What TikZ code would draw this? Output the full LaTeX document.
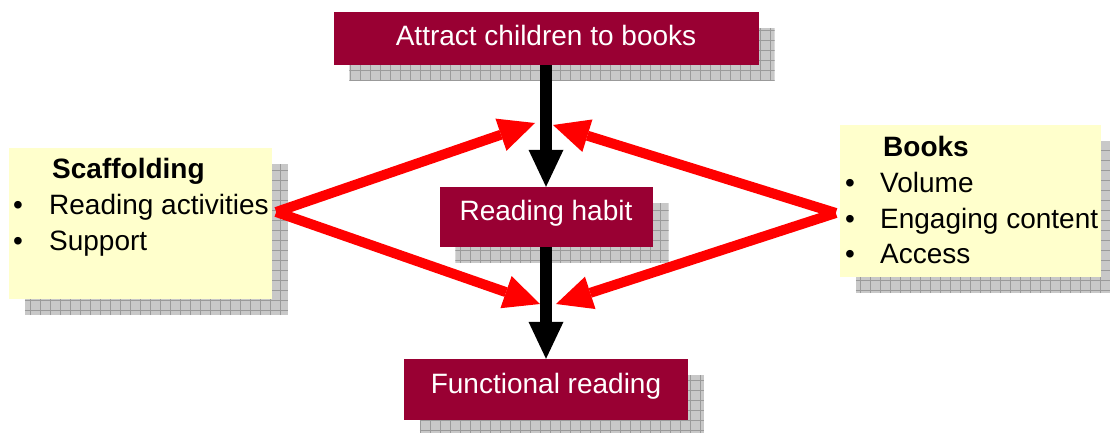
\documentclass[tikz,border=0pt]{standalone}
\usepackage{fontspec}
\setmainfont{Liberation Sans}
\usetikzlibrary{arrows.meta}
\definecolor{boxred}{HTML}{990033}
\definecolor{noteyellow}{HTML}{FFFFCC}
\definecolor{shadowgray}{HTML}{C8C8C8}
\definecolor{gridgray}{HTML}{9A9A9A}
\pgfdeclarelayer{shadowlayer}
\pgfdeclarelayer{arrowlayer}
\pgfsetlayers{shadowlayer,arrowlayer,main}
\newcommand\mydropshadow[1]{%
  \begin{pgfonlayer}{shadowlayer}
    \begin{scope}
      \clip ([shift={(16pt,-16pt)}]#1.south west) rectangle ([shift={(16pt,-16pt)}]#1.north east);
      \fill[shadowgray] ([shift={(16pt,-16pt)}]#1.south west) rectangle ([shift={(16pt,-16pt)}]#1.north east);
      \draw[gridgray, line width=0.7pt, step=10pt] ([shift={(16pt,-16pt)}]#1.south west) grid ([shift={(16pt,-16pt)}]#1.north east);
    \end{scope}
  \end{pgfonlayer}}
\tikzset{
  redbox/.style={fill=boxred, text=white, font=\fontsize{28}{34}\selectfont, inner sep=0pt, text height=20pt},
  notebox/.style={fill=noteyellow, inner sep=0pt},
  notetext/.style={anchor=base west, inner sep=0pt},
  feedarrow/.style={draw=red, line width=10pt, -{Triangle[length=36pt,width=34pt,line width=0pt]}},
  flowarrow/.style={draw=black, line width=12pt, -{Triangle[length=37pt,width=35pt,line width=0pt]}},
}
\begin{document}
\begin{tikzpicture}[x=1pt,y=-1pt]
\useasboundingbox (0,0) rectangle (1110,433);

% main boxes
\node[redbox, minimum width=425pt, minimum height=53pt, text depth=5pt] (attract) at (546,38.5) {Attract children to books};
\node[redbox, minimum width=213pt, minimum height=60pt, text depth=14pt] (habit) at (546,217) {Reading habit};
\node[redbox, minimum width=284pt, minimum height=61pt, text depth=13pt] (func) at (546,389.5) {Functional reading};

% note boxes
\node[notebox, minimum width=263pt, minimum height=151pt] (scaf) at (140.5,223.5) {};
\node[notetext, font=\fontsize{28}{36}\selectfont] (scaftext) at (13,178.5)
  {\begin{tabular}[t]{@{}p{36pt}@{}l@{}}
     & \hspace{3pt}\textbf{Scaffolding}\\
   \textbullet & Reading activities\\
   \textbullet & Support
   \end{tabular}};
\node[notebox, minimum width=261pt, minimum height=152pt] (books) at (970.5,201) {};
\node[notetext, font=\fontsize{28}{35.5}\selectfont] (bookstext) at (845,157)
  {\begin{tabular}[t]{@{}p{35pt}@{}l@{}}
     & \hspace{3pt}\textbf{Books}\\
   \textbullet & Volume\\
   \textbullet & Engaging content\\
   \textbullet & Access
   \end{tabular}};

% shadows
\mydropshadow{attract}
\mydropshadow{habit}
\mydropshadow{func}
\mydropshadow{scaf}
\mydropshadow{books}

% connector coordinates
\coordinate (scafout) at ([xshift=4pt,yshift=11.5pt]scaf.east);
\coordinate (booksout) at ([xshift=-4pt,yshift=-12pt]books.west);
\coordinate (tipUL) at (535,123);
\coordinate (tipUR) at (553,125);
\coordinate (tipLL) at (540,304);
\coordinate (tipLR) at (556,304);

\begin{pgfonlayer}{arrowlayer}
  \draw[flowarrow] (attract.south) -- (habit.north);
  \draw[flowarrow] (habit.south) -- (func.north);
  \draw[feedarrow] (scafout) -- (tipUL);
  \draw[feedarrow] (scafout) -- (tipLL);
  \draw[feedarrow] (booksout) -- (tipUR);
  \draw[feedarrow] (booksout) -- (tipLR);
\end{pgfonlayer}
\end{tikzpicture}
\end{document}
